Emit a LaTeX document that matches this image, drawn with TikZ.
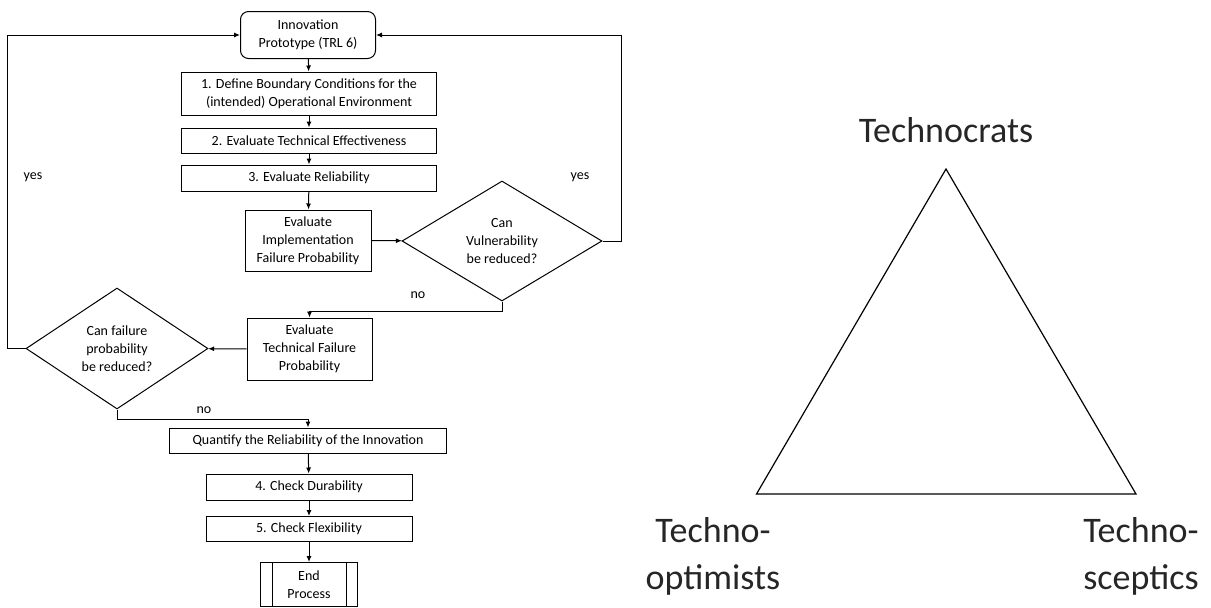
\documentclass[tikz,border=0pt]{standalone}
\usepackage{fontspec}
\setmainfont{Carlito}
\usetikzlibrary{shapes.geometric,arrows.meta}

\tikzset{
	flow/.style={draw,line width=1pt,align=center,inner sep=1pt,font=\fontsize{14}{18}\selectfont},
	box/.style={flow,rectangle},
	decide/.style={flow,diamond,inner sep=0pt},
	lbl/.style={font=\fontsize{14}{18}\selectfont},
	big/.style={align=center,font=\fontsize{36}{47}\selectfont,text=black!85},
	arr/.style={line width=1pt,-{Latex[length=6pt,width=5pt]}}
}

\begin{document}
\begin{tikzpicture}[x=1pt,y=-1pt]
		\useasboundingbox (0,0) rectangle (1211,608);
		% flowchart
		\node[box,rounded corners=8pt,minimum width=135pt,minimum height=47pt] (start) at (308,35) {Innovation\\Prototype (TRL 6)};
		\node[box,minimum width=255pt,minimum height=43pt] (bound) at (309,93.5) {1. Define Boundary Conditions for the\\(intended) Operational Environment};
		\node[box,minimum width=255pt,minimum height=25pt] (effect) at (309,140.5) {2. Evaluate Technical Effectiveness};
		\node[box,minimum width=255pt,minimum height=26pt] (reliab) at (309,178) {3. Evaluate Reliability};
		\node[box,minimum width=126pt,minimum height=61pt] (impl) at (308,240.5) {Evaluate\\Implementation\\Failure Probability};
		\node[decide,minimum width=200pt,minimum height=120pt] (vuln) at (502,241) {Can\\Vulnerability\\be reduced?};
		\node[box,minimum width=125pt,minimum height=62pt] (techfail) at (309.5,349) {Evaluate\\Technical Failure\\Probability};
		\node[decide,minimum width=182pt,minimum height=121pt] (failprob) at (117,348.5) {Can failure\\probability\\be reduced?};
		\node[box,minimum width=277pt,minimum height=25pt] (quant) at (308,440.5) {Quantify the Reliability of the Innovation};
		\node[box,minimum width=206pt,minimum height=26pt] (durab) at (309,487) {4. Check Durability};
		\node[box,minimum width=206pt,minimum height=25pt] (flexib) at (309,529) {5. Check Flexibility};
		\node[box,minimum width=97pt,minimum height=44pt] (endproc) at (309,584.5) {End\\Process};
		\draw[line width=1pt] ([xshift=12pt]endproc.north west) -- ([xshift=12pt]endproc.south west)
			([xshift=-12pt]endproc.north east) -- ([xshift=-12pt]endproc.south east);

		\coordinate (rloop) at (621,35);
		\coordinate (lloop) at (7,35);
		\coordinate (vturn) at (502,311);
		\coordinate (fturn) at (117,419);

		\path[arr]
		(start) edge (bound)
		(bound) edge (effect)
		(effect) edge (reliab)
		(reliab) edge (impl)
		(impl) edge (vuln)
		(techfail) edge (failprob)
		(quant) edge (durab)
		(durab) edge (flexib)
		(flexib) edge (endproc);
		\draw[arr] (vuln.east) -| (rloop) -- (start.east);
		\draw[arr] (failprob.west) -| (lloop) -- (start.west);
		\draw[arr] (vuln.south) -- (vturn) -| (techfail.north);
		\draw[arr] (failprob.south) -- (fturn) -| (quant.north);

		\node[lbl] (yesl) at (33,177) {yes};
		\node[lbl] (yesr) at (580,177) {yes};
		\node[lbl] (nov) at (418,295) {no};
		\node[lbl] (nof) at (204,410) {no};

		% triangle
		\coordinate (apex) at (946,169);
		\coordinate (optc) at (756.5,494);
		\coordinate (scec) at (1136,494);
		\draw[line width=1.2pt,line join=miter] (apex) -- (optc) -- (scec) -- cycle;
		\node[big] (crats) at (946,130) {Technocrats};
		\node[big] (optim) at (713,556) {Techno-\\optimists};
		\node[big] (scept) at (1141,556) {Techno-\\sceptics};
	\end{tikzpicture}
\end{document}
